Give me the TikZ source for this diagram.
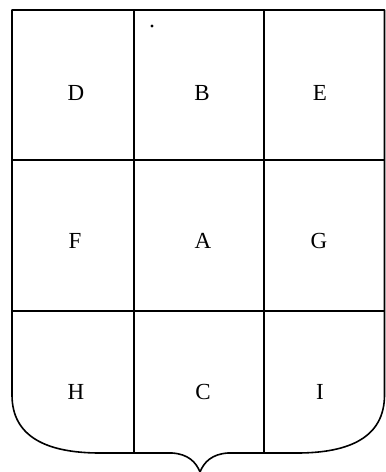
\documentclass[tikz,border=0pt]{standalone}
\usepackage{fontspec}
\setmainfont{Liberation Serif}
\begin{document}
\begin{tikzpicture}[x=1pt,y=-1pt,
  lbl/.style={font=\fontsize{23}{23}\selectfont, inner sep=0pt},
  edge/.style={line width=1.6pt, line join=round}]
\useasboundingbox (0,0) rectangle (386,472);
% shield outline
\draw[edge] (12,10) -- (384.5,10) -- (384.5,395)
  .. controls (384.5,437) and (350,453) .. (297,453)
  -- (228,453) .. controls (212,454) and (204,462) .. (200,472)
  .. controls (196,462) and (188,454) .. (172,453)
  -- (100,453) .. controls (47,453) and (12,437) .. (12,395) -- cycle;
% divisions
\coordinate (v1t) at (134,10); \coordinate (v1b) at (134,453);
\coordinate (v2t) at (264,10); \coordinate (v2b) at (264,453);
\coordinate (h1l) at (12,160); \coordinate (h1r) at (384.5,160);
\coordinate (h2l) at (12,311); \coordinate (h2r) at (384.5,311);
\draw[edge] (v1t) -- (v1b);
\draw[edge] (v2t) -- (v2b);
\draw[edge] (h1l) -- (h1r);
\draw[edge] (h2l) -- (h2r);
\fill (152,26) circle (1.6pt);
% labels
\node[lbl] (D) at (76,93) {D};
\node[lbl] (B) at (202,93) {B};
\node[lbl] (E) at (320,93) {E};
\node[lbl] (F) at (75,241) {F};
\node[lbl] (A) at (203,241) {A};
\node[lbl] (G) at (319,241) {G};
\node[lbl] (H) at (76,392) {H};
\node[lbl] (C) at (203,392) {C};
\node[lbl] (I) at (320,392) {I};
\end{tikzpicture}
\end{document}
